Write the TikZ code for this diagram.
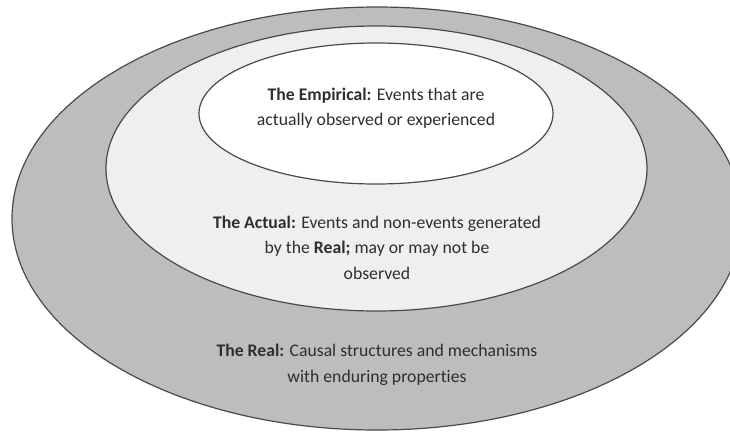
\documentclass[tikz,border=0pt]{standalone}
\usepackage{fontspec}
\setmainfont{Carlito}[Ligatures={NoCommon}]
\usetikzlibrary{shapes.geometric,positioning}
\definecolor{realgray}{HTML}{BDBDBD}
\definecolor{actualgray}{HTML}{EFEFEF}
\definecolor{rimgray}{HTML}{4A4A4A}
\definecolor{inkgray}{HTML}{2E2E2E}
\tikzset{
    layer/.style ={ellipse, draw=rimgray, line width=1.2pt, inner sep=0pt},
    caption/.style = {align=center, text=inkgray, font=\fontsize{17.7}{25.5}\selectfont}
}
\begin{document}
\begin{tikzpicture}[x=1pt,y=-1pt]
    \useasboundingbox[fill=white] (0,0) rectangle (730,437);
    \node[layer, fill=realgray, minimum width=730pt, minimum height=423pt] (real) at (377,218.5) {};
    \node[layer, fill=actualgray, minimum width=541pt, minimum height=285pt] (actual) at (376.5,168.5) {};
    \node[layer, fill=white, minimum width=354pt, minimum height=141pt] (empirical) at (376,113.5) {};

    \node[caption] (empiricaltext) at (376,108) {\textbf{The Empirical:} Events that are\\actually observed or experienced};
    \node[caption] (actualtext) at (377,247.5) {\textbf{The Actual:} Events and non-events generated\\by the \textbf{Real;} may or may not be\\observed};
    \node[caption] (realtext) at (377,365) {\textbf{The Real:} Causal structures and mechanisms\\with enduring properties};
\end{tikzpicture}
\end{document}
